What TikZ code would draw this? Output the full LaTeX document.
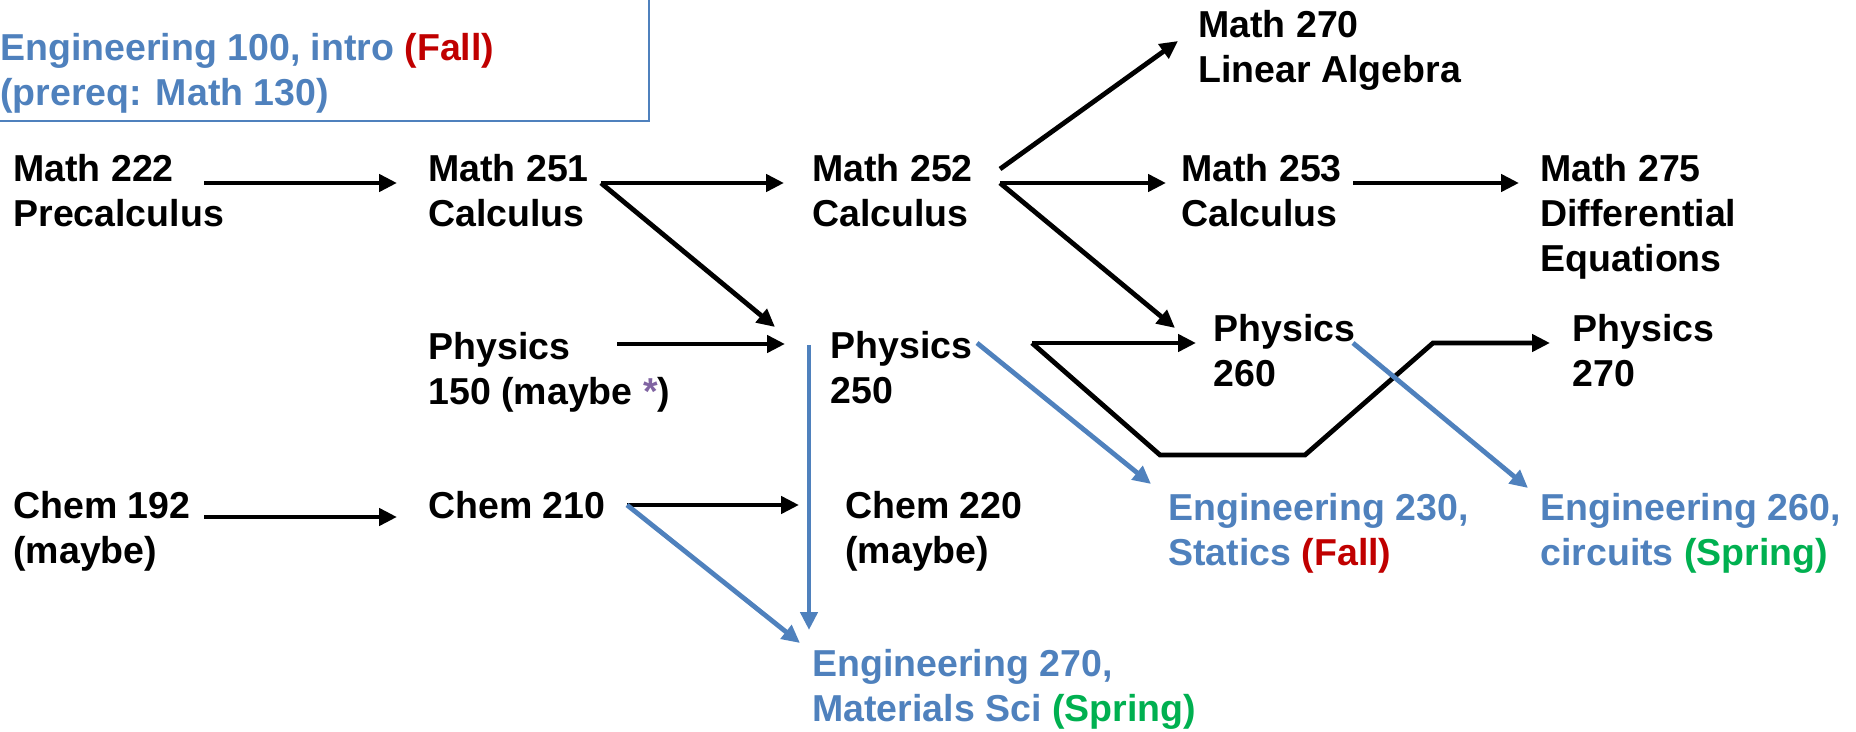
\documentclass[tikz,border=0pt]{standalone}
\usepackage{fontspec}
\setmainfont{Liberation Sans}
\usetikzlibrary{arrows.meta, calc}

\definecolor{engblue}{RGB}{79,129,189}
\definecolor{fallred}{RGB}{192,0,0}
\definecolor{springgreen}{RGB}{0,176,80}
\definecolor{notepurple}{RGB}{128,100,162}

% lines of a course name, hung from the first baseline
\newcommand{\courselines}[1]{\begin{tabular}[t]{@{}l@{}}#1\end{tabular}}

\tikzset{
  course/.style={anchor=base west, inner sep=0pt,
    font=\bfseries\fontsize{18.75}{22.5}\selectfont},
  engcourse/.style={course, text=engblue},
  prereq/.style={line width=2.4pt, -{Triangle[length=9pt,width=8.5pt]}},
  engreq/.style={prereq, draw=engblue},
}

\begin{document}
\begin{tikzpicture}[x=0.5pt, y=-0.5pt]
  % picture measured in pixels, y downwards
  \useasboundingbox (0,0) rectangle (1856,732);
  \clip (0,0) rectangle (1856,732);
  % Engineering 100 box (runs off the top left corner)
  \draw[engblue, line width=1.2pt] (-20,-20) rectangle (649,121);
  \node[engcourse] (e100) at (0,61)
    {\courselines{Engineering 100, intro \textcolor{fallred}{(Fall)}\\(prereq: Math 130)}};
  % Math courses
  \node[course] (m222) at (13,182) {\courselines{Math 222\\Precalculus}};
  \node[course] (m251) at (428,182) {\courselines{Math 251\\Calculus}};
  \node[course] (m252) at (812,182) {\courselines{Math 252\\Calculus}};
  \node[course] (m270) at (1198,38) {\courselines{Math 270\\Linear Algebra}};
  \node[course] (m253) at (1181,182) {\courselines{Math 253\\Calculus}};
  \node[course] (m275) at (1540,182) {\courselines{Math 275\\Differential\\Equations}};
  % Physics courses
  \node[course] (p150) at (428,359) {\courselines{Physics\\150 (maybe \textcolor{notepurple}{*})}};
  \node[course] (p250) at (830,358) {\courselines{Physics\\250}};
  \node[course] (p260) at (1213,342) {\courselines{Physics\\260}};
  \node[course] (p270) at (1572,342) {\courselines{Physics\\270}};
  % Chemistry courses
  \node[course] (c192) at (13,518) {\courselines{Chem 192\\(maybe)}};
  \node[course] (c210) at (428,518) {Chem 210};
  \node[course] (c220) at (845,518) {\courselines{Chem 220\\(maybe)}};
  % Engineering courses
  \node[engcourse] (e230) at (1168,520)
    {\courselines{Engineering 230,\\Statics \textcolor{fallred}{(Fall)}}};
  \node[engcourse] (e260) at (1540,520)
    {\courselines{Engineering 260,\\circuits \textcolor{springgreen}{(Spring)}}};
  \node[engcourse] (e270) at (812,676)
    {\courselines{Engineering 270,\\Materials Sci \textcolor{springgreen}{(Spring)}}};
  % Math chain
  \draw[prereq] ($(m222.base west)+(191,1)$) -- ($(m251.base west)+(-31,1)$);
  \draw[prereq] ($(m251.base west)+(173,1)$) -- ($(m252.base west)+(-28,1)$);
  \draw[prereq] ($(m251.base west)+(173,1)$) -- ($(p250.base west)+(-55,-31)$);
  \draw[prereq] ($(m252.base west)+(188,-13)$) -- ($(m270.base west)+(-20,3)$);
  \draw[prereq] ($(m252.base west)+(188,1)$) -- ($(m253.base west)+(-15,1)$);
  \draw[prereq] ($(m252.base west)+(188,1)$) -- ($(p260.base west)+(-38,-14)$);
  \draw[prereq] ($(m253.base west)+(172,1)$) -- ($(m275.base west)+(-21,1)$);
  % Physics chain
  \draw[prereq] ($(p150.base west)+(189,-15)$) -- ($(p250.base west)+(-45,-14)$);
  \draw[prereq] ($(p250.base west)+(202,-15)$) -- ($(p260.base west)+(-17,1)$);
  \draw[prereq] ($(p250.base west)+(202,-15)$) -- ++(128,112) -- ++(145,0)
    -- ++(128,-112) -- ($(p270.base west)+(-22,1)$);
  % Chemistry chain
  \draw[prereq] ($(c192.base west)+(191,-1)$) -- ($(c210.base west)+(-31,-1)$);
  \draw[prereq] ($(c210.base west)+(199,-13)$) -- ($(c220.base west)+(-46,-13)$);
  % Engineering prerequisites
  \draw[engreq] ($(p250.base west)+(-21,-13)$) -- ($(e270.base west)+(-3,-46)$);
  \draw[engreq] ($(c210.base west)+(199,-13)$) -- ($(e270.base west)+(-12,-33)$);
  \draw[engreq] ($(p250.base west)+(147,-15)$) -- ($(e230.base west)+(-17,-36)$);
  \draw[engreq] ($(p260.base west)+(140,1)$) -- ($(e260.base west)+(-12,-32)$);
\end{tikzpicture}
\end{document}
